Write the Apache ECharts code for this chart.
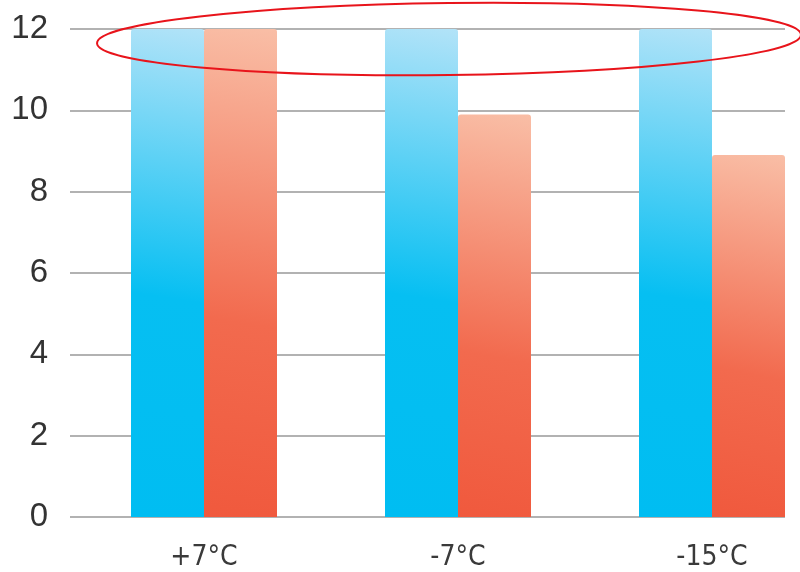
<!DOCTYPE html>
<html>
<head>
<meta charset="utf-8">
<script src="https://cdn.jsdelivr.net/npm/echarts@6/dist/echarts.min.js"></script>
<style>
  html, body { margin: 0; padding: 0; background: #fff; }
  #chart { width: 800px; height: 572px; }
</style>
</head>
<body>
<div id="chart"></div>
<script>
// Outdoor temperature categories and the two capacity series
const categories = ['+7°C', '-7°C', '-15°C'];
const nominalValues = [12, 12, 12];
const outputValues = [12, 9.9, 8.9];
const yMin = 0;
const yMax = 12;
const yStep = 2;

const chart = echarts.init(document.getElementById('chart'), null, { renderer: 'canvas' });

function diagGradient(stops) {
  return new echarts.graphic.LinearGradient(0, 1, 1, 0, stops);
}

const blueFill = diagGradient([
  { offset: 0, color: '#00BDF2' },
  { offset: 0.45, color: '#06BFF2' },
  { offset: 1, color: '#B2E3F8' }
]);
const redFill = diagGradient([
  { offset: 0, color: '#F0593D' },
  { offset: 0.4, color: '#F26A4E' },
  { offset: 1, color: '#F9BEA6' }
]);

chart.setOption({
  animation: false,
  grid: [
    // value grid: y labels and horizontal rules
    { left: 70, right: 15, top: 29, bottom: 55 },
    // bar grid: category ticks sit at the group centres
    { left: 204, width: 508, top: 29, bottom: 55 }
  ],
  xAxis: [
    { gridIndex: 0, type: 'category', data: categories, show: false },
    {
      gridIndex: 1,
      type: 'category',
      data: categories,
      boundaryGap: false,
      axisLine: { show: false },
      axisTick: { show: false },
      splitLine: { show: false },
      axisLabel: {
        margin: 27,
        fontSize: 28,
        color: '#3a3a3a',
        fontFamily: '"DejaVu Sans Condensed", sans-serif'
      }
    }
  ],
  yAxis: [
    {
      gridIndex: 0,
      type: 'value',
      min: yMin,
      max: yMax,
      interval: yStep,
      axisLine: { show: false },
      axisTick: { show: false },
      axisLabel: {
        margin: 22,
        fontSize: 33,
        color: '#333',
        fontFamily: '"Liberation Sans", Arial, sans-serif'
      },
      splitLine: { lineStyle: { color: '#999', width: 1.5 } }
    },
    {
      gridIndex: 1,
      type: 'value',
      min: yMin,
      max: yMax,
      interval: yStep,
      show: false,
      splitLine: { show: false }
    }
  ],
  series: [
    {
      name: 'nominal',
      type: 'bar',
      xAxisIndex: 1,
      yAxisIndex: 1,
      data: nominalValues,
      barWidth: 73,
      barGap: '0%',
      clip: false,
      itemStyle: { color: blueFill, borderRadius: [3, 3, 0, 0] }
    },
    {
      name: 'output',
      type: 'bar',
      xAxisIndex: 1,
      yAxisIndex: 1,
      data: outputValues,
      barWidth: 73,
      barGap: '0%',
      clip: false,
      itemStyle: { color: redFill, borderRadius: [3, 3, 0, 0] }
    }
  ],
  graphic: [
    {
      type: 'ellipse',
      shape: { cx: 449, cy: 39, rx: 352, ry: 36 },
      originX: 449,
      originY: 39,
      rotation: 0.012,
      style: { fill: 'none', stroke: '#E8141B', lineWidth: 2 },
      z: 100
    }
  ]
});
</script>
</body>
</html>
